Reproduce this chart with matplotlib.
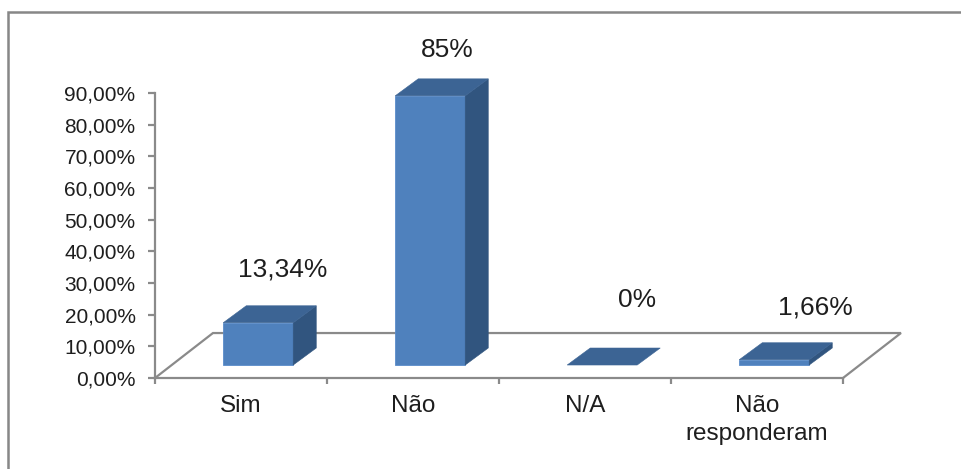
import matplotlib.pyplot as plt
from matplotlib.patches import Polygon, Rectangle
from matplotlib.ticker import FuncFormatter, FixedLocator

# respostas (percentual)
categories = ["Sim", "Não", "N/A", "Não\nresponderam"]
values = [13.34, 85, 0, 1.66]
y_ticks = [0, 10, 20, 30, 40, 50, 60, 70, 80, 90]

# cores das faces das colunas
FRONT = "#4f81bd"
TOP = "#3c6494"
SIDE = "#31557f"
EDGE = "#8a8a8a"
TEXT = "#1e1e1e"

# geometria da perspectiva (unidades de dados: categoria / %)
floor_dx, floor_dy = 0.337, 14.2
bar_w = 0.407
bar_shift = 0.10
bar_base = 4.1
depth_dx, depth_dy = 0.134, 5.37
label_dx = [0.24, 0.20, 0.30, 0.34]
label_gap = [11.3, 9.1, 15.2, 11.0]

plt.rcParams["font.family"] = ["Liberation Sans", "DejaVu Sans"]

fig = plt.figure(figsize=(9.62, 4.69), dpi=100)
ax = fig.add_axes([155 / 962, 91 / 469, 688 / 962, 285 / 469])
ax.set_xlim(-0.5, len(categories) - 0.5)
ax.set_ylim(0, 90)

for s in ("top", "right"):
    ax.spines[s].set_visible(False)
for s in ("left", "bottom"):
    ax.spines[s].set_color(EDGE)
    ax.spines[s].set_linewidth(1.6)

ax.yaxis.set_major_locator(FixedLocator(y_ticks))
ax.yaxis.set_major_formatter(
    FuncFormatter(lambda v, p: f"{v:.2f}%".replace(".", ","))
)
ax.tick_params(axis="y", direction="out", length=5, width=1.6, color=EDGE,
               pad=9, labelsize=15, labelcolor=TEXT)

n = len(categories)
ax.xaxis.set_major_locator(FixedLocator([i - 0.5 for i in range(n + 1)]))
ax.xaxis.set_major_formatter(FuncFormatter(lambda v, p: ""))
ax.xaxis.set_minor_locator(FixedLocator(list(range(n))))
ax.set_xticklabels(categories, minor=True)
ax.tick_params(axis="x", which="major", direction="out", length=4.5,
               width=1.6, color=EDGE)
ax.tick_params(axis="x", which="minor", length=0, pad=12, labelsize=17.5,
               labelcolor=TEXT)
for lbl in ax.get_xticklabels(minor=True):
    lbl.set_linespacing(1.35)

# piso em perspectiva
x_lo, x_hi = -0.5, n - 0.5
ax.plot([x_lo, x_lo + floor_dx, x_hi + floor_dx, x_hi],
        [0, floor_dy, floor_dy, 0], color=EDGE, lw=1.6, clip_on=False,
        solid_joinstyle="miter")

# colunas 3D
for i, v in enumerate(values):
    x0 = i + bar_shift - bar_w / 2
    x1 = x0 + bar_w
    y0 = bar_base
    y1 = bar_base + v
    if v > 0:
        ax.add_patch(Rectangle((x0, y0), bar_w, v, facecolor=FRONT,
                               edgecolor="#5a8cca", lw=0.6, clip_on=False,
                               zorder=3))
        ax.add_patch(Polygon([(x1, y0), (x1 + depth_dx, y0 + depth_dy),
                              (x1 + depth_dx, y1 + depth_dy), (x1, y1)],
                             closed=True, facecolor=SIDE, edgecolor=SIDE,
                             lw=0.4, clip_on=False, zorder=3))
    ax.add_patch(Polygon([(x0, y1), (x1, y1), (x1 + depth_dx, y1 + depth_dy),
                          (x0 + depth_dx, y1 + depth_dy)],
                         closed=True, facecolor=TOP, edgecolor=TOP, lw=0.4,
                         clip_on=False, zorder=4))
    txt = f"{v:g}".replace(".", ",") + "%"
    ax.text(i + label_dx[i], y1 + depth_dy + label_gap[i], txt,
            ha="center", va="center", fontsize=19, color=TEXT,
            clip_on=False)

# moldura do gráfico
fig.add_artist(Rectangle((8 / 962, -0.1), 1.5, (469 - 12) / 469 + 0.1,
                         transform=fig.transFigure, fill=False,
                         edgecolor="#878787", lw=1.8, clip_on=False))

fig.savefig("out.png", dpi=100, facecolor="white")
